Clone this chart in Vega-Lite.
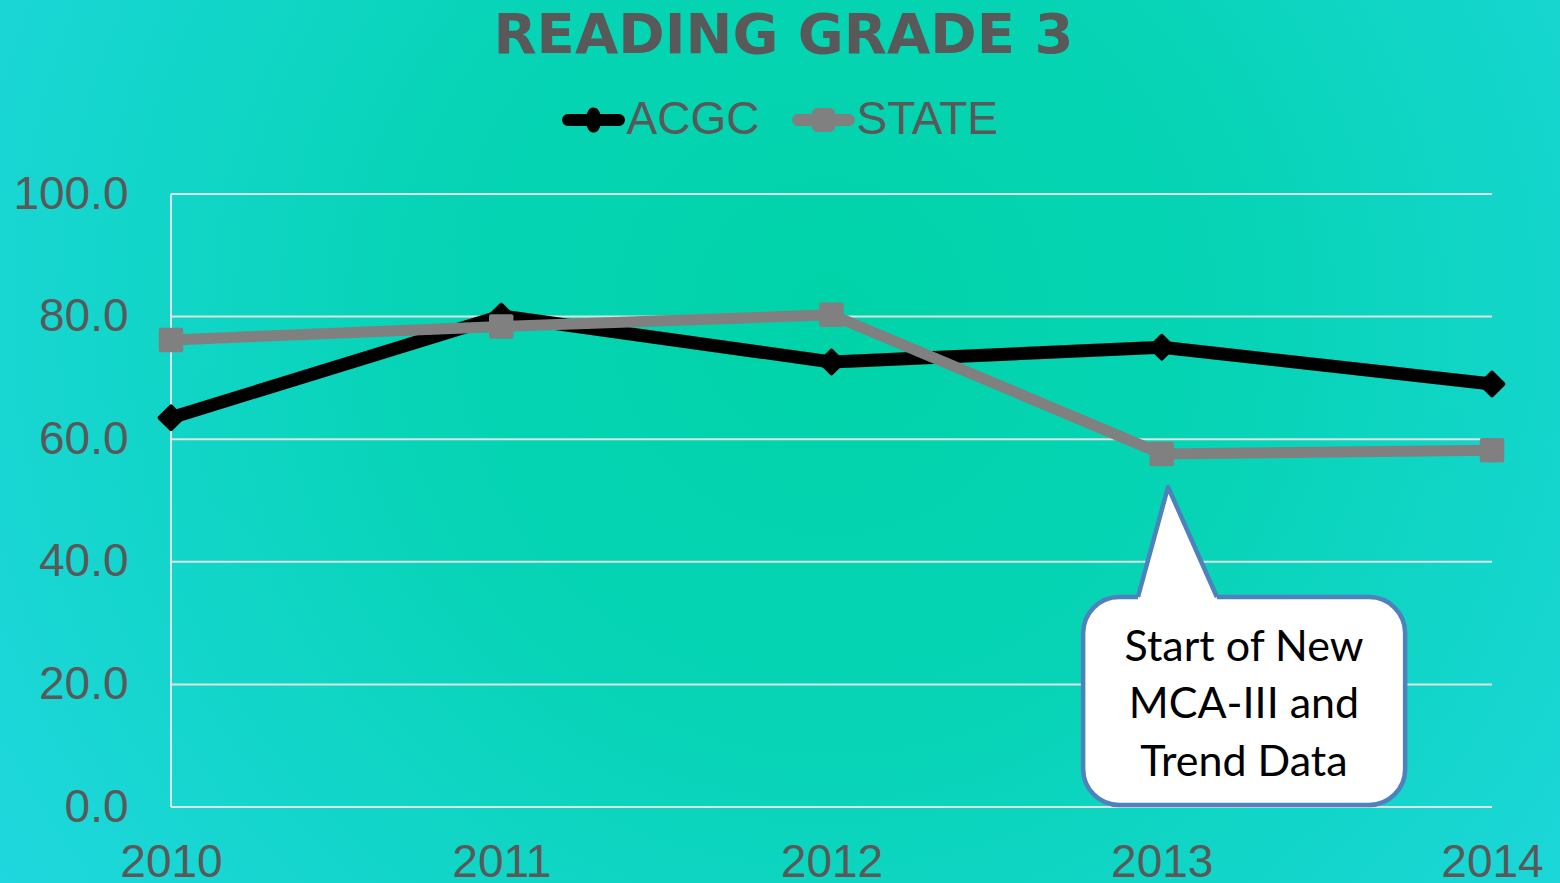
{
  "$schema": "https://vega.github.io/schema/vega-lite/v6.json",
  "width": 1321,
  "height": 613,
  "autosize": {"type": "none"},
  "padding": {"left": 171, "top": 194, "right": 68, "bottom": 76},
  "background": "#1fd7de",
  "title": {
    "text": "READING GRADE 3",
    "font": "DejaVu Sans",
    "fontSize": 56,
    "fontWeight": "bold",
    "color": "#595959",
    "anchor": "middle",
    "dx": -48,
    "offset": -65,
    "zindex": 2
  },
  "config": {
    "view": {"stroke": null},
    "axis": {
      "labelFont": "Liberation Sans",
      "labelFontSize": 46,
      "labelColor": "#595959",
      "grid": false,
      "domain": false,
      "ticks": false,
      "zindex": 2
    }
  },
  "datasets": {
    "scores": [
      {"year": 2010, "series": "ACGC", "value": 63.5},
      {"year": 2011, "series": "ACGC", "value": 80.1},
      {"year": 2012, "series": "ACGC", "value": 72.6},
      {"year": 2013, "series": "ACGC", "value": 75.0},
      {"year": 2014, "series": "ACGC", "value": 69.0},
      {"year": 2010, "series": "STATE", "value": 76.2},
      {"year": 2011, "series": "STATE", "value": 78.4},
      {"year": 2012, "series": "STATE", "value": 80.3},
      {"year": 2013, "series": "STATE", "value": 57.6},
      {"year": 2014, "series": "STATE", "value": 58.2}
    ],
    "grid": [{"v": 0}, {"v": 20}, {"v": 40}, {"v": 60}, {"v": 80}, {"v": 100}],
    "callout": [{"x": 2012.762, "x2": 2013.737, "y": 0.33, "y2": 34.26}],
    "pointer": [
      {"px": 2012.928, "py": 34.26},
      {"px": 2013.019, "py": 52.2},
      {"px": 2013.167, "py": 34.26}
    ],
    "one": [{"k": 1}]
  },
  "layer": [
    {
      "data": {"name": "one"},
      "mark": {
        "type": "rect",
        "clip": false,
        "fill": {
          "gradient": "radial",
          "x1": 0.532, "y1": 0.42, "x2": 0.532, "y2": 0.42,
          "r1": 0, "r2": 0.64,
          "stops": [
            {"offset": 0, "color": "#00d3a8"},
            {"offset": 0.4, "color": "#06d4b5"},
            {"offset": 1, "color": "#1fd7de"}
          ]
        }
      },
      "encoding": {
        "x": {"datum": 2009.4822, "type": "quantitative", "scale": {"domain": [2010, 2014]},
              "axis": {"values": [2010, 2011, 2012, 2013, 2014], "format": "d", "labelPadding": 33, "labelFlush": false, "labelOverlap": false, "title": null, "zindex": 2}},
        "x2": {"datum": 2014.2059},
        "y": {"datum": -12.4, "type": "quantitative", "scale": {"domain": [0, 100]},
              "axis": {"values": [0, 20, 40, 60, 80, 100], "format": ".1f", "labelPadding": 43, "title": null, "zindex": 2}},
        "y2": {"datum": 131.65}
      }
    },
    {
      "data": {"name": "grid"},
      "mark": {"type": "rule", "color": "#dde3e3", "strokeWidth": 2},
      "encoding": {
        "x": {"datum": 2010, "type": "quantitative", "scale": {"domain": [2010, 2014]},
              "axis": {"values": [2010, 2011, 2012, 2013, 2014], "format": "d", "labelPadding": 33, "labelFlush": false, "labelOverlap": false, "title": null, "zindex": 2}},
        "x2": {"datum": 2014},
        "y": {"field": "v", "type": "quantitative", "scale": {"domain": [0, 100]},
              "axis": {"values": [0, 20, 40, 60, 80, 100], "format": ".1f", "labelPadding": 43, "title": null, "zindex": 2}}
      }
    },
    {
      "data": {"name": "one"},
      "mark": {"type": "rule", "color": "#dde3e3", "strokeWidth": 2},
      "encoding": {
        "x": {"datum": 2010, "type": "quantitative", "scale": {"domain": [2010, 2014]},
              "axis": {"values": [2010, 2011, 2012, 2013, 2014], "format": "d", "labelPadding": 33, "labelFlush": false, "labelOverlap": false, "title": null, "zindex": 2}},
        "y": {"datum": 0, "type": "quantitative", "scale": {"domain": [0, 100]},
              "axis": {"values": [0, 20, 40, 60, 80, 100], "format": ".1f", "labelPadding": 43, "title": null, "zindex": 2}},
        "y2": {"datum": 100}
      }
    },
    {
      "data": {"name": "scores"},
      "transform": [{"filter": "datum.series === 'ACGC'"}],
      "mark": {"type": "line", "strokeJoin": "round", "strokeWidth": 13},
      "encoding": {
        "x": {"field": "year", "type": "quantitative", "scale": {"domain": [2010, 2014]},
              "axis": {"values": [2010, 2011, 2012, 2013, 2014], "format": "d", "labelPadding": 33, "labelFlush": false, "labelOverlap": false, "title": null, "zindex": 2}},
        "y": {"field": "value", "type": "quantitative", "scale": {"domain": [0, 100]},
              "axis": {"values": [0, 20, 40, 60, 80, 100], "format": ".1f", "labelPadding": 43, "title": null, "zindex": 2}},
        "color": {
          "field": "series", "type": "nominal",
          "scale": {"domain": ["ACGC", "STATE"], "range": ["#000000", "#808080"]},
          "legend": {
            "orient": "none",
            "legendX": 386.5,
            "legendY": -110,
            "direction": "horizontal",
            "title": null,
            "padding": 0,
            "labelFont": "Liberation Sans",
            "labelFontSize": 46,
            "labelColor": "#595959",
            "labelOffset": -3,
            "columnPadding": 28,
            "symbolSize": 3600,
            "symbolStrokeWidth": 12,
            "encoding": {
              "symbols": {
                "shape": {"value": {"expr": "datum.value === 'ACGC' ? 'M-0.85,0H0.85M0,-0.22L0.1,0L0,0.22L-0.1,0Z' : 'M-0.85,0H0.85M-0.2,-0.2H0.2V0.2H-0.2Z'"}},
                "fill": {"value": {"expr": "datum.value === 'ACGC' ? '#000000' : '#808080'"}},
                "stroke": {"value": {"expr": "datum.value === 'ACGC' ? '#000000' : '#808080'"}},
                "size": {"value": 3600},
                "strokeWidth": {"value": 12},
                "strokeCap": {"value": "round"},
                "strokeJoin": {"value": "round"},
                "opacity": {"value": 1}
              }
            }
          }
        }
      }
    },
    {
      "data": {"name": "scores"},
      "transform": [{"filter": "datum.series === 'STATE'"}],
      "mark": {"type": "line", "strokeJoin": "round", "strokeWidth": 11, "color": "#808080"},
      "encoding": {
        "x": {"field": "year", "type": "quantitative", "scale": {"domain": [2010, 2014]},
              "axis": {"values": [2010, 2011, 2012, 2013, 2014], "format": "d", "labelPadding": 33, "labelFlush": false, "labelOverlap": false, "title": null, "zindex": 2}},
        "y": {"field": "value", "type": "quantitative", "scale": {"domain": [0, 100]},
              "axis": {"values": [0, 20, 40, 60, 80, 100], "format": ".1f", "labelPadding": 43, "title": null, "zindex": 2}}
      }
    },
    {
      "data": {"name": "scores"},
      "transform": [{"filter": "datum.series === 'ACGC'"}],
      "mark": {"type": "point", "shape": "diamond", "size": 520, "filled": true, "opacity": 1, "color": "#000000", "stroke": "#000000", "strokeWidth": 4, "strokeJoin": "round"},
      "encoding": {
        "x": {"field": "year", "type": "quantitative", "scale": {"domain": [2010, 2014]},
              "axis": {"values": [2010, 2011, 2012, 2013, 2014], "format": "d", "labelPadding": 33, "labelFlush": false, "labelOverlap": false, "title": null, "zindex": 2}},
        "y": {"field": "value", "type": "quantitative", "scale": {"domain": [0, 100]},
              "axis": {"values": [0, 20, 40, 60, 80, 100], "format": ".1f", "labelPadding": 43, "title": null, "zindex": 2}}
      }
    },
    {
      "data": {"name": "scores"},
      "transform": [{"filter": "datum.series === 'STATE'"}],
      "mark": {"type": "point", "shape": "square", "size": 420, "filled": true, "opacity": 1, "color": "#808080", "stroke": "#808080", "strokeWidth": 4, "strokeJoin": "round"},
      "encoding": {
        "x": {"field": "year", "type": "quantitative", "scale": {"domain": [2010, 2014]},
              "axis": {"values": [2010, 2011, 2012, 2013, 2014], "format": "d", "labelPadding": 33, "labelFlush": false, "labelOverlap": false, "title": null, "zindex": 2}},
        "y": {"field": "value", "type": "quantitative", "scale": {"domain": [0, 100]},
              "axis": {"values": [0, 20, 40, 60, 80, 100], "format": ".1f", "labelPadding": 43, "title": null, "zindex": 2}}
      }
    },
    {
      "data": {"name": "callout"},
      "mark": {"type": "rect", "fill": "#ffffff", "stroke": "#4f81bd", "strokeWidth": 4.5, "cornerRadius": 36},
      "encoding": {
        "x": {"field": "x", "type": "quantitative", "scale": {"domain": [2010, 2014]},
              "axis": {"values": [2010, 2011, 2012, 2013, 2014], "format": "d", "labelPadding": 33, "labelFlush": false, "labelOverlap": false, "title": null, "zindex": 2}},
        "x2": {"field": "x2"},
        "y": {"field": "y", "type": "quantitative", "scale": {"domain": [0, 100]},
              "axis": {"values": [0, 20, 40, 60, 80, 100], "format": ".1f", "labelPadding": 43, "title": null, "zindex": 2}},
        "y2": {"field": "y2"}
      }
    },
    {
      "data": {"name": "pointer"},
      "mark": {"type": "area", "fill": "#ffffff", "orient": "vertical"},
      "encoding": {
        "x": {"field": "px", "type": "quantitative", "scale": {"domain": [2010, 2014]},
              "axis": {"values": [2010, 2011, 2012, 2013, 2014], "format": "d", "labelPadding": 33, "labelFlush": false, "labelOverlap": false, "title": null, "zindex": 2}},
        "y": {"field": "py", "type": "quantitative", "scale": {"domain": [0, 100]},
              "axis": {"values": [0, 20, 40, 60, 80, 100], "format": ".1f", "labelPadding": 43, "title": null, "zindex": 2}},
        "y2": {"datum": 33.5}
      }
    },
    {
      "data": {"name": "pointer"},
      "mark": {"type": "line", "stroke": "#4f81bd", "strokeWidth": 4.5, "strokeJoin": "round"},
      "encoding": {
        "x": {"field": "px", "type": "quantitative", "scale": {"domain": [2010, 2014]},
              "axis": {"values": [2010, 2011, 2012, 2013, 2014], "format": "d", "labelPadding": 33, "labelFlush": false, "labelOverlap": false, "title": null, "zindex": 2}},
        "y": {"field": "py", "type": "quantitative", "scale": {"domain": [0, 100]},
              "axis": {"values": [0, 20, 40, 60, 80, 100], "format": ".1f", "labelPadding": 43, "title": null, "zindex": 2}}
      }
    },
    {
      "data": {"name": "one"},
      "mark": {
        "type": "text",
        "text": "Start of New\nMCA-III and\nTrend Data",
        "lineBreak": "\n",
        "lineHeight": 57.5,
        "font": "Lato",
        "fontSize": 43,
        "color": "#000000",
        "align": "center",
        "baseline": "middle"
      },
      "encoding": {
        "x": {"datum": 2013.249, "type": "quantitative", "scale": {"domain": [2010, 2014]},
              "axis": {"values": [2010, 2011, 2012, 2013, 2014], "format": "d", "labelPadding": 33, "labelFlush": false, "labelOverlap": false, "title": null, "zindex": 2}},
        "y": {"datum": 25.94, "type": "quantitative", "scale": {"domain": [0, 100]},
              "axis": {"values": [0, 20, 40, 60, 80, 100], "format": ".1f", "labelPadding": 43, "title": null, "zindex": 2}}
      }
    }
  ]
}
